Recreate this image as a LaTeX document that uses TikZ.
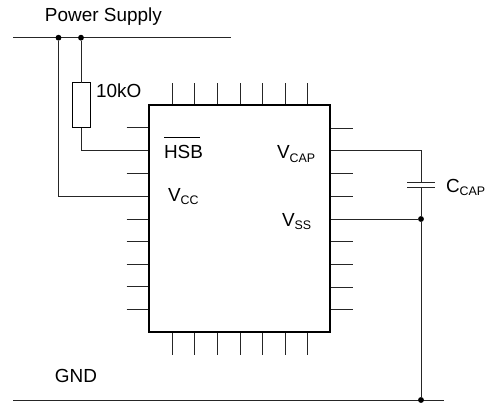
\documentclass[tikz,border=0pt]{standalone}
\usepackage{fontspec}
\setmainfont{Liberation Sans}
\newcommand{\lsub}[1]{\raisebox{-2.4pt}{\fontsize{9.3pt}{10pt}\selectfont #1}}
\tikzset{
  wire/.style={line width=0.75pt,black!85},
  chipbox/.style={draw=black,line width=1.6pt,fill=white,inner sep=0pt,outer sep=0pt,minimum width=135.75pt,minimum height=170pt},
  resbox/.style={draw=black,line width=0.75pt,fill=white,inner sep=0pt,outer sep=0pt,minimum width=13.5pt,minimum height=33.75pt},
  junction/.style={circle,fill=black,inner sep=0pt,outer sep=0pt,minimum size=4.4pt},
  lbl/.style={anchor=base west,inner sep=0pt,outer sep=0pt,font=\fontsize{14.2pt}{16pt}\selectfont}
}
\begin{document}
\begin{tikzpicture}[x=0.75pt,y=-0.75pt]
\useasboundingbox[fill=white] (0,0) rectangle (486,403);
% power and ground rails
\coordinate (pl) at (13,37.7);
\coordinate (pr) at (231,37.7);
\coordinate (gl) at (13,400);
\coordinate (gr) at (444,400);
\draw[wire] (pl) -- (pr);
\draw[wire] (gl) -- (gr);
% chip
\node[chipbox] (chip) at (239.5,218.75) {};
% left pins
\foreach \y/\n in {128/l1,151/l2,173.6/l3,196.6/l4,219/l5,241.6/l6,264/l7,286.7/l8,309.4/l9}{
  \coordinate (\n) at (126.5,\y);
  \draw[wire] (\n) -- (chip.west |- \n);
}
% right pins
\foreach \y/\n in {128.3/r1,151/r2,173.7/r3,196.7/r4,219/r5,241.7/r6,264/r7,287/r8,309.7/r9}{
  \coordinate (\n) at (353,\y);
  \draw[wire] (chip.east |- \n) -- (\n);
}
% top and bottom pins
\foreach \x/\n in {172/1,194.5/2,217/3,240/4,262/5,285/6,307.3/7}{
  \coordinate (t\n) at (\x,83.5);
  \coordinate (b\n) at (\x,354.7);
  \draw[wire] (t\n) -- (chip.north -| t\n);
  \draw[wire] (chip.south -| b\n) -- (b\n);
}
% redraw chip outline over pin roots
\node[chipbox,fill=none] at (chip.center) {};
% resistor branch
\node[junction] (j1) at (58.5,37.7) {};
\node[junction] (j2) at (81,37.7) {};
\node[resbox] (res) at (81,105.5) {};
\draw[wire] (j2) -- (res.north);
\draw[wire] (res.south) |- (l2);
\draw[wire] (j1) |- (l4);
% capacitor branch
\node[junction] (j3) at (421,219) {};
\node[junction] (j4) at (421,400) {};
\coordinate (c1) at (421,182.7);
\coordinate (c2) at (421,187);
\coordinate (c1l) at (407,182.7);
\coordinate (c1r) at (435,182.7);
\coordinate (c2l) at (407,187);
\coordinate (c2r) at (435,187);
\draw[wire] (r2) -| (c1);
\draw[wire] (c1l) -- (c1r);
\draw[wire] (c2l) -- (c2r);
\draw[wire] (c2) -- (j3);
\draw[wire] (r5) -- (j3);
\draw[wire] (j3) -- (j4);
% labels
\node[lbl] (ps) at (45,21.7) {Power Supply};
\node[lbl] (gnd) at (55,382.7) {GND};
\node[lbl] (rv) at (96,97.5) {10kO};
\node[lbl] (hsb) at (164,159) {\rlap{\raisebox{15.7pt}{\rule{27pt}{0.7pt}}}HSB};
\node[lbl] (vcc) at (168,201.5) {V\lsub{CC}};
\node[lbl] (vcap) at (277,159) {V\lsub{CAP}};
\node[lbl] (vss) at (282,226.7) {V\lsub{SS}};
\node[lbl] (ccap) at (446,192) {C\lsub{CAP}};
\end{tikzpicture}
\end{document}
